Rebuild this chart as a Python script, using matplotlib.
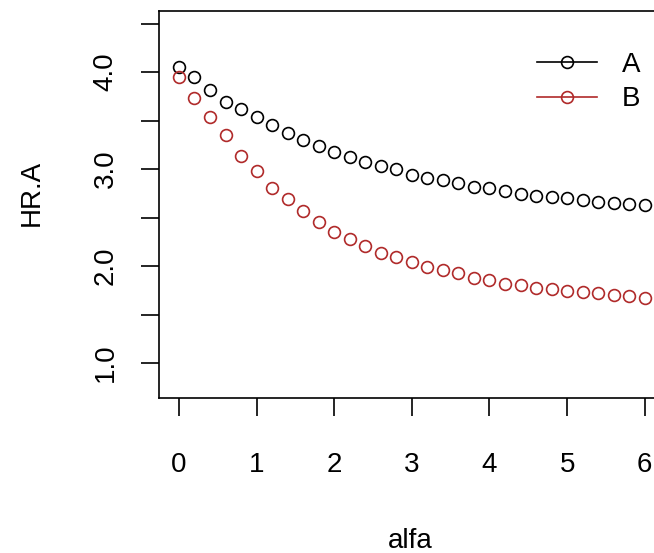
import matplotlib
matplotlib.use("Agg")
import matplotlib.pyplot as plt

plt.rcParams["font.family"] = ["Liberation Sans", "DejaVu Sans"]

# valores
alfa = [0.0, 0.2, 0.4, 0.6, 0.8, 1.0, 1.2, 1.4, 1.6, 1.8, 2.0, 2.2, 2.4, 2.6, 2.8, 3.0,
        3.2, 3.4, 3.6, 3.8, 4.0, 4.2, 4.4, 4.6, 4.8, 5.0, 5.2, 5.4, 5.6, 5.8, 6.0]
serie_a = [4.05, 3.95, 3.82, 3.69, 3.62, 3.54, 3.45, 3.37, 3.30, 3.24, 3.18, 3.12, 3.07,
           3.03, 3.00, 2.94, 2.91, 2.89, 2.86, 2.82, 2.81, 2.77, 2.74, 2.72, 2.71, 2.70,
           2.68, 2.66, 2.65, 2.64, 2.63]
serie_b = [3.95, 3.73, 3.54, 3.35, 3.14, 2.98, 2.81, 2.69, 2.57, 2.45, 2.35, 2.28, 2.21,
           2.14, 2.09, 2.04, 1.99, 1.96, 1.93, 1.88, 1.86, 1.82, 1.80, 1.77, 1.76, 1.74,
           1.73, 1.72, 1.70, 1.69, 1.67]
yticks = [1.0, 1.5, 2.0, 2.5, 3.0, 3.5, 4.0, 4.5]
ylabels = ["1.0", "", "2.0", "", "3.0", "", "4.0", ""]

rojo = "#b02a2a"

fig = plt.figure(figsize=(6.54, 5.53), dpi=100)
# el panel sigue mas alla del borde derecho, como en la imagen original
ax = fig.add_axes([159 / 654, 1 - 398 / 553, 537 / 654, 387 / 553])

ax.plot(alfa, serie_a, "o", mfc="none", mec="black", ms=8.5, mew=1.2, label="A")
ax.plot(alfa, serie_b, "o", mfc="none", mec=rojo, ms=8.5, mew=1.2, label="B")

ax.set_xlim(-0.257, 6.66)
ax.set_ylim(0.64, 4.63)
ax.set_xticks(range(7))
ax.set_yticks(yticks)
ax.set_yticklabels(ylabels, rotation=90, va="center")

for s in ax.spines.values():
    s.set_linewidth(1.2)
ax.tick_params(direction="out", length=13, width=1.2, labelsize=20)
ax.tick_params(axis="x", pad=26)
ax.tick_params(axis="y", pad=16)

ax.set_xlabel("alfa", fontsize=20)
ax.set_ylabel("HR.A", fontsize=20)
ax.xaxis.set_label_coords(0.467, -0.336)
ax.yaxis.set_label_coords(-0.213, 0.53)

h1, = ax.plot([], [], "-o", color="black", mfc="none", ms=8.5, mew=1.2, lw=1.2)
h2, = ax.plot([], [], "-o", color=rojo, mfc="none", ms=8.5, mew=1.2, lw=1.2)
ax.legend([h1, h2], ["A", "B"], loc="upper left", bbox_to_anchor=(0.704, 0.894),
          frameon=False, fontsize=20, handlelength=2.16, handletextpad=0.9,
          labelspacing=0.3, borderpad=0, borderaxespad=0)

fig.savefig("out.png", dpi=100)
